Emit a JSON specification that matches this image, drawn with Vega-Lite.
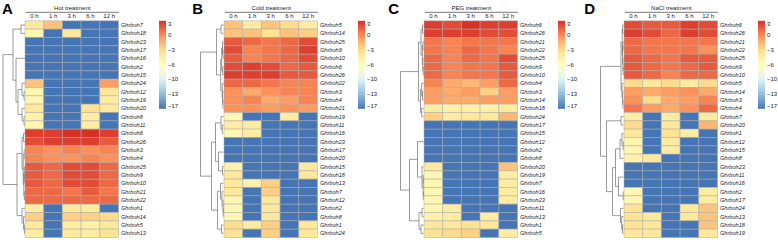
{
"$schema": "https://vega.github.io/schema/vega-lite/v6.json",
"padding": {"left": 2, "top": 0.8, "right": 0, "bottom": 0},
"background": "white",
"datasets": {
"heat": [
{"p":"A","r":1,"g":"Ghrboh7","0 h":-4.5,"1 h":-2.5,"3 h":-17,"6 h":-17,"12 h":-17},
{"p":"A","r":2,"g":"Ghrboh18","0 h":-6,"1 h":-17,"3 h":-4.5,"6 h":-17,"12 h":-17},
{"p":"A","r":3,"g":"Ghrboh23","0 h":-17,"1 h":-17,"3 h":-17,"6 h":-17,"12 h":-17},
{"p":"A","r":4,"g":"Ghrboh17","0 h":-17,"1 h":-17,"3 h":-17,"6 h":-17,"12 h":-17},
{"p":"A","r":5,"g":"Ghrboh16","0 h":-17,"1 h":-17,"3 h":-17,"6 h":-17,"12 h":-17},
{"p":"A","r":6,"g":"Ghrboh2","0 h":-17,"1 h":-17,"3 h":-17,"6 h":-17,"12 h":-17},
{"p":"A","r":7,"g":"Ghrboh15","0 h":-17,"1 h":-17,"3 h":-17,"6 h":-17,"12 h":-17},
{"p":"A","r":8,"g":"Ghrboh24","0 h":-2.5,"1 h":-17,"3 h":-17,"6 h":-17,"12 h":-1},
{"p":"A","r":9,"g":"Ghrboh12","0 h":-6,"1 h":-17,"3 h":-17,"6 h":-17,"12 h":-4.5},
{"p":"A","r":10,"g":"Ghrboh19","0 h":-6,"1 h":-17,"3 h":-17,"6 h":-17,"12 h":-5},
{"p":"A","r":11,"g":"Ghrboh20","0 h":-4.5,"1 h":-17,"3 h":-17,"6 h":-4,"12 h":-4.5},
{"p":"A","r":12,"g":"Ghrboh8","0 h":-5.5,"1 h":-17,"3 h":-17,"6 h":-5,"12 h":-17},
{"p":"A","r":13,"g":"Ghrboh11","0 h":-6,"1 h":-17,"3 h":-17,"6 h":-5,"12 h":-17},
{"p":"A","r":14,"g":"Ghrboh6","0 h":2.5,"1 h":2.5,"3 h":3,"6 h":3,"12 h":2.5},
{"p":"A","r":15,"g":"Ghrboh26","0 h":2,"1 h":2.5,"3 h":2.5,"6 h":2.5,"12 h":1.5},
{"p":"A","r":16,"g":"Ghrboh3","0 h":0,"1 h":-0.5,"3 h":0,"6 h":-0.5,"12 h":0},
{"p":"A","r":17,"g":"Ghrboh4","0 h":0,"1 h":-0.5,"3 h":-0.5,"6 h":0,"12 h":-0.5},
{"p":"A","r":18,"g":"Ghrboh25","0 h":1.5,"1 h":1,"3 h":2,"6 h":2,"12 h":1},
{"p":"A","r":19,"g":"Ghrboh9","0 h":1.5,"1 h":1,"3 h":2,"6 h":2,"12 h":1},
{"p":"A","r":20,"g":"Ghrboh10","0 h":1.5,"1 h":1,"3 h":2,"6 h":2,"12 h":1},
{"p":"A","r":21,"g":"Ghrboh21","0 h":1,"1 h":1,"3 h":0.5,"6 h":1.5,"12 h":0.5},
{"p":"A","r":22,"g":"Ghrboh22","0 h":1,"1 h":1,"3 h":1,"6 h":1,"12 h":1},
{"p":"A","r":23,"g":"Ghrboh1","0 h":-5,"1 h":-17,"3 h":-4.5,"6 h":-5,"12 h":-17},
{"p":"A","r":24,"g":"Ghrboh14","0 h":-3,"1 h":-17,"3 h":-3,"6 h":-3,"12 h":-3.5},
{"p":"A","r":25,"g":"Ghrboh5","0 h":-4.5,"1 h":-17,"3 h":-5,"6 h":-5.5,"12 h":-4.5},
{"p":"A","r":26,"g":"Ghrboh13","0 h":-5,"1 h":-17,"3 h":-4.5,"6 h":-5,"12 h":-4},
{"p":"B","r":1,"g":"Ghrboh5","0 h":-2.5,"1 h":-5,"3 h":-2.5,"6 h":-3.5,"12 h":-5},
{"p":"B","r":2,"g":"Ghrboh14","0 h":-2.5,"1 h":-2.5,"3 h":-4,"6 h":-2.5,"12 h":-3},
{"p":"B","r":3,"g":"Ghrboh25","0 h":1.5,"1 h":1,"3 h":0.5,"6 h":1,"12 h":2},
{"p":"B","r":4,"g":"Ghrboh9","0 h":2,"1 h":0,"3 h":0.5,"6 h":1,"12 h":2.5},
{"p":"B","r":5,"g":"Ghrboh10","0 h":1.5,"1 h":0,"3 h":0.5,"6 h":1,"12 h":2},
{"p":"B","r":6,"g":"Ghrboh6","0 h":2,"1 h":2.5,"3 h":2,"6 h":1,"12 h":1.5},
{"p":"B","r":7,"g":"Ghrboh26","0 h":2.5,"1 h":2.5,"3 h":2.5,"6 h":1.5,"12 h":1.5},
{"p":"B","r":8,"g":"Ghrboh22","0 h":1,"1 h":1,"3 h":0.5,"6 h":0,"12 h":0},
{"p":"B","r":9,"g":"Ghrboh3","0 h":-0.5,"1 h":-1.5,"3 h":-0.5,"6 h":0,"12 h":0},
{"p":"B","r":10,"g":"Ghrboh4","0 h":-0.5,"1 h":0,"3 h":-1.5,"6 h":-1,"12 h":0},
{"p":"B","r":11,"g":"Ghrboh21","0 h":-0.5,"1 h":-0.5,"3 h":-1,"6 h":-0.5,"12 h":-1},
{"p":"B","r":12,"g":"Ghrboh19","0 h":-6,"1 h":-17,"3 h":-17,"6 h":-5,"12 h":-17},
{"p":"B","r":13,"g":"Ghrboh11","0 h":-5,"1 h":-5,"3 h":-17,"6 h":-17,"12 h":-17},
{"p":"B","r":14,"g":"Ghrboh16","0 h":-6,"1 h":-5,"3 h":-17,"6 h":-17,"12 h":-17},
{"p":"B","r":15,"g":"Ghrboh23","0 h":-17,"1 h":-17,"3 h":-17,"6 h":-17,"12 h":-17},
{"p":"B","r":16,"g":"Ghrboh17","0 h":-17,"1 h":-17,"3 h":-17,"6 h":-17,"12 h":-17},
{"p":"B","r":17,"g":"Ghrboh20","0 h":-17,"1 h":-17,"3 h":-17,"6 h":-17,"12 h":-17},
{"p":"B","r":18,"g":"Ghrboh15","0 h":-5.5,"1 h":-17,"3 h":-17,"6 h":-17,"12 h":-4.5},
{"p":"B","r":19,"g":"Ghrboh18","0 h":-4.5,"1 h":-17,"3 h":-17,"6 h":-17,"12 h":-4.5},
{"p":"B","r":20,"g":"Ghrboh13","0 h":-4.5,"1 h":-5.5,"3 h":-3,"6 h":-17,"12 h":-17},
{"p":"B","r":21,"g":"Ghrboh7","0 h":-4.5,"1 h":-17,"3 h":-3,"6 h":-17,"12 h":-17},
{"p":"B","r":22,"g":"Ghrboh12","0 h":-6,"1 h":-17,"3 h":-4.5,"6 h":-17,"12 h":-17},
{"p":"B","r":23,"g":"Ghrboh2","0 h":-6,"1 h":-17,"3 h":-4.5,"6 h":-17,"12 h":-17},
{"p":"B","r":24,"g":"Ghrboh8","0 h":-6,"1 h":-17,"3 h":-4.5,"6 h":-17,"12 h":-17},
{"p":"B","r":25,"g":"Ghrboh1","0 h":-3.5,"1 h":-5,"3 h":-3,"6 h":-17,"12 h":-4.5},
{"p":"B","r":26,"g":"Ghrboh24","0 h":-4,"1 h":-17,"3 h":-3,"6 h":-17,"12 h":-4.5},
{"p":"C","r":1,"g":"Ghrboh6","0 h":2.5,"1 h":2,"3 h":3,"6 h":2.5,"12 h":2.5},
{"p":"C","r":2,"g":"Ghrboh26","0 h":2.5,"1 h":2.5,"3 h":2.5,"6 h":2,"12 h":2},
{"p":"C","r":3,"g":"Ghrboh21","0 h":0.5,"1 h":0,"3 h":0.5,"6 h":0.5,"12 h":0.5},
{"p":"C","r":4,"g":"Ghrboh22","0 h":0.5,"1 h":0,"3 h":1,"6 h":0.5,"12 h":0},
{"p":"C","r":5,"g":"Ghrboh25","0 h":1,"1 h":0,"3 h":1,"6 h":0.5,"12 h":2},
{"p":"C","r":6,"g":"Ghrboh9","0 h":1,"1 h":0,"3 h":0.5,"6 h":0.5,"12 h":1.5},
{"p":"C","r":7,"g":"Ghrboh10","0 h":1,"1 h":0,"3 h":0.5,"6 h":0.5,"12 h":1.5},
{"p":"C","r":8,"g":"Ghrboh4","0 h":0,"1 h":-1.5,"3 h":-2,"6 h":-1,"12 h":1},
{"p":"C","r":9,"g":"Ghrboh3","0 h":-1,"1 h":-1.5,"3 h":-1,"6 h":-3,"12 h":-1},
{"p":"C","r":10,"g":"Ghrboh14","0 h":-1,"1 h":-1.5,"3 h":-1.5,"6 h":-1,"12 h":-1},
{"p":"C","r":11,"g":"Ghrboh18","0 h":-5,"1 h":-5.5,"3 h":-5.5,"6 h":-5.5,"12 h":-5},
{"p":"C","r":12,"g":"Ghrboh24","0 h":-3,"1 h":-5,"3 h":-4.5,"6 h":-4.5,"12 h":-2},
{"p":"C","r":13,"g":"Ghrboh17","0 h":-17,"1 h":-17,"3 h":-17,"6 h":-17,"12 h":-17},
{"p":"C","r":14,"g":"Ghrboh15","0 h":-17,"1 h":-17,"3 h":-17,"6 h":-17,"12 h":-17},
{"p":"C","r":15,"g":"Ghrboh12","0 h":-17,"1 h":-17,"3 h":-17,"6 h":-17,"12 h":-17},
{"p":"C","r":16,"g":"Ghrboh2","0 h":-17,"1 h":-17,"3 h":-17,"6 h":-17,"12 h":-17},
{"p":"C","r":17,"g":"Ghrboh8","0 h":-17,"1 h":-17,"3 h":-17,"6 h":-17,"12 h":-17},
{"p":"C","r":18,"g":"Ghrboh20","0 h":-4.5,"1 h":-17,"3 h":-17,"6 h":-17,"12 h":-2.5},
{"p":"C","r":19,"g":"Ghrboh19","0 h":-6,"1 h":-17,"3 h":-17,"6 h":-17,"12 h":-5},
{"p":"C","r":20,"g":"Ghrboh7","0 h":-6,"1 h":-17,"3 h":-17,"6 h":-17,"12 h":-5},
{"p":"C","r":21,"g":"Ghrboh16","0 h":-6,"1 h":-17,"3 h":-17,"6 h":-17,"12 h":-5},
{"p":"C","r":22,"g":"Ghrboh23","0 h":-6,"1 h":-17,"3 h":-17,"6 h":-17,"12 h":-5},
{"p":"C","r":23,"g":"Ghrboh11","0 h":-6,"1 h":-5,"3 h":-17,"6 h":-17,"12 h":-17},
{"p":"C","r":24,"g":"Ghrboh13","0 h":-5.5,"1 h":-5,"3 h":-17,"6 h":-5,"12 h":-17},
{"p":"C","r":25,"g":"Ghrboh1","0 h":-4.5,"1 h":-4.5,"3 h":-4,"6 h":-4.5,"12 h":-17},
{"p":"C","r":26,"g":"Ghrboh5","0 h":-4,"1 h":-3.5,"3 h":-3,"6 h":-17,"12 h":-5},
{"p":"D","r":1,"g":"Ghrboh6","0 h":2,"1 h":1.5,"3 h":1.5,"6 h":2.5,"12 h":2},
{"p":"D","r":2,"g":"Ghrboh26","0 h":2.5,"1 h":2,"3 h":1,"6 h":2.5,"12 h":2},
{"p":"D","r":3,"g":"Ghrboh21","0 h":1,"1 h":0.5,"3 h":0.5,"6 h":0.5,"12 h":0.5},
{"p":"D","r":4,"g":"Ghrboh22","0 h":1,"1 h":0.5,"3 h":0.5,"6 h":0.5,"12 h":-0.5},
{"p":"D","r":5,"g":"Ghrboh25","0 h":1.5,"1 h":1,"3 h":0.5,"6 h":1.5,"12 h":1.5},
{"p":"D","r":6,"g":"Ghrboh9","0 h":1.5,"1 h":1,"3 h":0.5,"6 h":1,"12 h":1.5},
{"p":"D","r":7,"g":"Ghrboh10","0 h":1.5,"1 h":1,"3 h":0,"6 h":1,"12 h":1},
{"p":"D","r":8,"g":"Ghrboh5","0 h":-3.5,"1 h":-4.5,"3 h":-3.5,"6 h":-5,"12 h":-3.5},
{"p":"D","r":9,"g":"Ghrboh14","0 h":-1,"1 h":-1.5,"3 h":-1,"6 h":-0.5,"12 h":-1.5},
{"p":"D","r":10,"g":"Ghrboh3","0 h":-0.5,"1 h":-3.5,"3 h":-1.5,"6 h":-1,"12 h":0},
{"p":"D","r":11,"g":"Ghrboh4","0 h":0.5,"1 h":-1,"3 h":-1.5,"6 h":-0.5,"12 h":1},
{"p":"D","r":12,"g":"Ghrboh7","0 h":-5,"1 h":-17,"3 h":-5,"6 h":-17,"12 h":-4.5},
{"p":"D","r":13,"g":"Ghrboh20","0 h":-3.5,"1 h":-17,"3 h":-4.5,"6 h":-17,"12 h":-2},
{"p":"D","r":14,"g":"Ghrboh1","0 h":-4.5,"1 h":-17,"3 h":-4,"6 h":-5,"12 h":-17},
{"p":"D","r":15,"g":"Ghrboh12","0 h":-6,"1 h":-17,"3 h":-5,"6 h":-17,"12 h":-17},
{"p":"D","r":16,"g":"Ghrboh15","0 h":-6,"1 h":-17,"3 h":-5,"6 h":-17,"12 h":-17},
{"p":"D","r":17,"g":"Ghrboh8","0 h":-5.5,"1 h":-4.5,"3 h":-17,"6 h":-17,"12 h":-17},
{"p":"D","r":18,"g":"Ghrboh23","0 h":-17,"1 h":-17,"3 h":-17,"6 h":-17,"12 h":-17},
{"p":"D","r":19,"g":"Ghrboh11","0 h":-17,"1 h":-17,"3 h":-17,"6 h":-17,"12 h":-17},
{"p":"D","r":20,"g":"Ghrboh16","0 h":-17,"1 h":-17,"3 h":-17,"6 h":-17,"12 h":-17},
{"p":"D","r":21,"g":"Ghrboh2","0 h":-6,"1 h":-17,"3 h":-17,"6 h":-17,"12 h":-5},
{"p":"D","r":22,"g":"Ghrboh17","0 h":-6,"1 h":-17,"3 h":-17,"6 h":-17,"12 h":-5},
{"p":"D","r":23,"g":"Ghrboh24","0 h":-4,"1 h":-17,"3 h":-17,"6 h":-4.5,"12 h":-2.5},
{"p":"D","r":24,"g":"Ghrboh13","0 h":-4,"1 h":-4.5,"3 h":-17,"6 h":-4.5,"12 h":-2.5},
{"p":"D","r":25,"g":"Ghrboh18","0 h":-4,"1 h":-4.5,"3 h":-17,"6 h":-17,"12 h":-2.5},
{"p":"D","r":26,"g":"Ghrboh19","0 h":-4.5,"1 h":-4.5,"3 h":-17,"6 h":-17,"12 h":-4.5}
],
"tree": [
{"p":"A","h":4,"ya":1,"ha":0,"yb":2,"hb":0},
{"p":"A","h":1,"ya":9,"ha":0,"yb":10,"hb":0},
{"p":"A","h":3,"ya":8,"ha":0,"yb":9.5,"hb":1},
{"p":"A","h":1,"ya":12,"ha":0,"yb":13,"hb":0},
{"p":"A","h":3,"ya":11,"ha":0,"yb":12.5,"hb":1},
{"p":"A","h":7,"ya":8.75,"ha":3,"yb":11.75,"hb":3},
{"p":"A","h":9,"ya":5,"ha":0,"yb":10.25,"hb":7},
{"p":"A","h":12,"ya":1.5,"ha":4,"yb":7.625,"hb":9},
{"p":"A","h":1.5,"ya":14,"ha":0,"yb":15,"hb":0},
{"p":"A","h":0.8,"ya":16,"ha":0,"yb":17,"hb":0},
{"p":"A","h":0.3,"ya":19,"ha":0,"yb":20,"hb":0},
{"p":"A","h":0.6,"ya":18,"ha":0,"yb":19.5,"hb":0.3},
{"p":"A","h":0.6,"ya":21,"ha":0,"yb":22,"hb":0},
{"p":"A","h":1.2,"ya":18.75,"ha":0.6,"yb":21.5,"hb":0.6},
{"p":"A","h":1.8,"ya":16.5,"ha":0.8,"yb":20.125,"hb":1.2},
{"p":"A","h":3,"ya":14.5,"ha":1.5,"yb":18.3125,"hb":1.8},
{"p":"A","h":0.6,"ya":25,"ha":0,"yb":26,"hb":0},
{"p":"A","h":1.5,"ya":24,"ha":0,"yb":25.5,"hb":0.6},
{"p":"A","h":3,"ya":23,"ha":0,"yb":24.75,"hb":1.5},
{"p":"A","h":8,"ya":16.40625,"ha":3,"yb":23.875,"hb":3},
{"p":"A","h":22,"ya":4.5625,"ha":12,"yb":20.140625,"hb":8},
{"p":"B","h":2.5,"ya":1,"ha":0,"yb":2,"hb":0},
{"p":"B","h":0.5,"ya":4,"ha":0,"yb":5,"hb":0},
{"p":"B","h":1,"ya":3,"ha":0,"yb":4.5,"hb":0.5},
{"p":"B","h":0.8,"ya":6,"ha":0,"yb":7,"hb":0},
{"p":"B","h":1.8,"ya":3.75,"ha":1,"yb":6.5,"hb":0.8},
{"p":"B","h":0.6,"ya":10,"ha":0,"yb":11,"hb":0},
{"p":"B","h":0.9,"ya":9,"ha":0,"yb":10.5,"hb":0.6},
{"p":"B","h":1.3,"ya":8,"ha":0,"yb":9.75,"hb":0.9},
{"p":"B","h":2.8,"ya":5.125,"ha":1.8,"yb":8.875,"hb":1.3},
{"p":"B","h":7,"ya":1.5,"ha":2.5,"yb":7,"hb":2.8},
{"p":"B","h":1.2,"ya":13,"ha":0,"yb":14,"hb":0},
{"p":"B","h":2.5,"ya":12,"ha":0,"yb":13.5,"hb":1.2},
{"p":"B","h":1,"ya":18,"ha":0,"yb":19,"hb":0},
{"p":"B","h":5,"ya":16.25,"ha":0,"yb":18.5,"hb":1},
{"p":"B","h":8,"ya":12.75,"ha":2.5,"yb":17.375,"hb":5},
{"p":"B","h":0.2,"ya":23,"ha":0,"yb":24,"hb":0},
{"p":"B","h":0.4,"ya":22,"ha":0,"yb":23.5,"hb":0.2},
{"p":"B","h":1.5,"ya":21,"ha":0,"yb":22.75,"hb":0.4},
{"p":"B","h":3,"ya":20,"ha":0,"yb":21.875,"hb":1.5},
{"p":"B","h":2,"ya":25,"ha":0,"yb":26,"hb":0},
{"p":"B","h":6,"ya":20.9375,"ha":3,"yb":25.5,"hb":2},
{"p":"B","h":12,"ya":15.0625,"ha":8,"yb":23.21875,"hb":6},
{"p":"B","h":23,"ya":4.25,"ha":7,"yb":19.140625,"hb":12},
{"p":"C","h":1,"ya":1,"ha":0,"yb":2,"hb":0},
{"p":"C","h":0.6,"ya":3,"ha":0,"yb":4,"hb":0},
{"p":"C","h":0.3,"ya":6,"ha":0,"yb":7,"hb":0},
{"p":"C","h":0.7,"ya":5,"ha":0,"yb":6.5,"hb":0.3},
{"p":"C","h":1.2,"ya":3.5,"ha":0.6,"yb":5.75,"hb":0.7},
{"p":"C","h":2.5,"ya":1.5,"ha":1,"yb":4.625,"hb":1.2},
{"p":"C","h":1,"ya":9,"ha":0,"yb":10,"hb":0},
{"p":"C","h":1.8,"ya":8,"ha":0,"yb":9.5,"hb":1},
{"p":"C","h":1.8,"ya":11,"ha":0,"yb":12,"hb":0},
{"p":"C","h":3,"ya":8.75,"ha":1.8,"yb":11.5,"hb":1.8},
{"p":"C","h":5,"ya":3.0625,"ha":2.5,"yb":10.125,"hb":3},
{"p":"C","h":0.2,"ya":19,"ha":0,"yb":20,"hb":0},
{"p":"C","h":0.2,"ya":21,"ha":0,"yb":22,"hb":0},
{"p":"C","h":0.3,"ya":19.5,"ha":0.2,"yb":21.5,"hb":0.2},
{"p":"C","h":1.5,"ya":18,"ha":0,"yb":20.5,"hb":0.3},
{"p":"C","h":6,"ya":15,"ha":0,"yb":19.25,"hb":1.5},
{"p":"C","h":1.5,"ya":23,"ha":0,"yb":24,"hb":0},
{"p":"C","h":2.5,"ya":25,"ha":0,"yb":26,"hb":0},
{"p":"C","h":4.5,"ya":23.5,"ha":1.5,"yb":25.5,"hb":2.5},
{"p":"C","h":14,"ya":17.125,"ha":6,"yb":24.5,"hb":4.5},
{"p":"C","h":23,"ya":6.59375,"ha":5,"yb":20.8125,"hb":14},
{"p":"D","h":0.8,"ya":1,"ha":0,"yb":2,"hb":0},
{"p":"D","h":0.5,"ya":3,"ha":0,"yb":4,"hb":0},
{"p":"D","h":0.3,"ya":6,"ha":0,"yb":7,"hb":0},
{"p":"D","h":0.5,"ya":5,"ha":0,"yb":6.5,"hb":0.3},
{"p":"D","h":0.9,"ya":3.5,"ha":0.5,"yb":5.75,"hb":0.5},
{"p":"D","h":1.3,"ya":1.5,"ha":0.8,"yb":4.625,"hb":0.9},
{"p":"D","h":0.6,"ya":10,"ha":0,"yb":11,"hb":0},
{"p":"D","h":0.9,"ya":9,"ha":0,"yb":10.5,"hb":0.6},
{"p":"D","h":1.5,"ya":8,"ha":0,"yb":9.75,"hb":0.9},
{"p":"D","h":2.5,"ya":3.0625,"ha":1.3,"yb":8.875,"hb":1.5},
{"p":"D","h":2.5,"ya":12,"ha":0,"yb":13,"hb":0},
{"p":"D","h":0.3,"ya":15,"ha":0,"yb":16,"hb":0},
{"p":"D","h":1.5,"ya":14,"ha":0,"yb":15.5,"hb":0.3},
{"p":"D","h":3.5,"ya":14.75,"ha":1.5,"yb":17,"hb":0},
{"p":"D","h":0.3,"ya":21,"ha":0,"yb":22,"hb":0},
{"p":"D","h":5,"ya":19.25,"ha":0,"yb":21.5,"hb":0.3},
{"p":"D","h":8,"ya":15.875,"ha":3.5,"yb":20.375,"hb":5},
{"p":"D","h":1,"ya":25,"ha":0,"yb":26,"hb":0},
{"p":"D","h":1.8,"ya":24,"ha":0,"yb":25.5,"hb":1},
{"p":"D","h":3,"ya":23,"ha":0,"yb":24.75,"hb":1.8},
{"p":"D","h":11,"ya":18.125,"ha":8,"yb":23.875,"hb":3},
{"p":"D","h":17,"ya":12.5,"ha":2.5,"yb":21,"hb":11},
{"p":"D","h":23,"ya":5.96875,"ha":2.5,"yb":16.75,"hb":17}
]
},
"bounds": "flush",
"spacing": 0,
"resolve": {"scale": {"color": "independent"}, "legend": {"color": "independent"}},
"hconcat": [
 {"width": 23, "height": 216.7, "title": {"text": "A", "dx": 0},
  "data": {"name": "tree"}, "transform": [{"filter": "datum.p == 'A'"}],
  "encoding": {"x": {"field": "h", "type": "quantitative", "scale": {"domain": [0, 23], "reverse": true, "nice": false, "zero": false}, "axis": null},
               "y": {"field": "ya", "type": "quantitative", "scale": {"domain": [0.5, 26.5], "reverse": true, "nice": false, "zero": false}, "axis": null}},
  "layer": [
   {"mark": {"type": "rule", "color": "#707070", "strokeWidth": 0.7}, "encoding": {"y2": {"field": "yb"}}},
   {"mark": {"type": "rule", "color": "#707070", "strokeWidth": 0.7}, "encoding": {"x2": {"field": "ha"}}},
   {"mark": {"type": "rule", "color": "#707070", "strokeWidth": 0.7}, "encoding": {"x2": {"field": "hb"}, "y": {"field": "yb", "type": "quantitative"}}}
  ]},
 {"width": 93.5, "height": 216.7, "data": {"name": "heat"},
  "transform": [{"filter": "datum.p == 'A'"}, {"fold": ["0 h", "1 h", "3 h", "6 h", "12 h"], "as": ["t", "v"]}],
  "mark": {"type": "rect", "stroke": "#a8a8a8", "strokeWidth": 0.5},
  "encoding": {
   "x": {"field": "t", "type": "ordinal", "sort": ["0 h", "1 h", "3 h", "6 h", "12 h"], "axis": {"orient": "top", "title": "Hot treatment"}},
   "y": {"field": "g", "type": "nominal", "sort": {"field": "r", "op": "min"}, "axis": {"orient": "right", "title": null}},
   "color": {"field": "v", "type": "quantitative",
     "scale": {"domain": [-17, -13.6667, -10.3333, -7, -3.6667, -0.3333, 3], "range": ["#4575B4", "#91BFDB", "#E0F3F8", "#FFFFBF", "#FEE090", "#FC8D59", "#D73027"], "interpolate": "rgb"},
     "legend": {"title": null, "values": [3, -0.3333, -3.6667, -7, -10.3333, -13.6667, -17], "labelExpr": "datum.value > 1 ? '3' : datum.value > -2 ? '0' : datum.value > -5 ? '−3' : datum.value > -8 ? '−6' : datum.value > -12 ? '−10' : datum.value > -15 ? '−13' : '−17'"}}
  }},
 {"width": 104.5, "height": 216.7, "title": {"text": "B", "dx": 73.2},
  "data": {"name": "tree"}, "transform": [{"filter": "datum.p == 'B'"}],
  "encoding": {"x": {"field": "h", "type": "quantitative", "scale": {"domain": [0, 104.5], "reverse": true, "nice": false, "zero": false}, "axis": null},
               "y": {"field": "ya", "type": "quantitative", "scale": {"domain": [0.5, 26.5], "reverse": true, "nice": false, "zero": false}, "axis": null}},
  "layer": [
   {"mark": {"type": "rule", "color": "#707070", "strokeWidth": 0.7}, "encoding": {"y2": {"field": "yb"}}},
   {"mark": {"type": "rule", "color": "#707070", "strokeWidth": 0.7}, "encoding": {"x2": {"field": "ha"}}},
   {"mark": {"type": "rule", "color": "#707070", "strokeWidth": 0.7}, "encoding": {"x2": {"field": "hb"}, "y": {"field": "yb", "type": "quantitative"}}}
  ]},
 {"width": 93.5, "height": 216.7, "data": {"name": "heat"},
  "transform": [{"filter": "datum.p == 'B'"}, {"fold": ["0 h", "1 h", "3 h", "6 h", "12 h"], "as": ["t", "v"]}],
  "mark": {"type": "rect", "stroke": "#a8a8a8", "strokeWidth": 0.5},
  "encoding": {
   "x": {"field": "t", "type": "ordinal", "sort": ["0 h", "1 h", "3 h", "6 h", "12 h"], "axis": {"orient": "top", "title": "Cold treatment"}},
   "y": {"field": "g", "type": "nominal", "sort": {"field": "r", "op": "min"}, "axis": {"orient": "right", "title": null}},
   "color": {"field": "v", "type": "quantitative",
     "scale": {"domain": [-17, -13.6667, -10.3333, -7, -3.6667, -0.3333, 3], "range": ["#4575B4", "#91BFDB", "#E0F3F8", "#FFFFBF", "#FEE090", "#FC8D59", "#D73027"], "interpolate": "rgb"},
     "legend": {"title": null, "values": [3, -0.3333, -3.6667, -7, -10.3333, -13.6667, -17], "labelExpr": "datum.value > 1 ? '3' : datum.value > -2 ? '0' : datum.value > -5 ? '−3' : datum.value > -8 ? '−6' : datum.value > -12 ? '−10' : datum.value > -15 ? '−13' : '−17'"}}
  }},
 {"width": 105.5, "height": 216.7, "title": {"text": "C", "dx": 70.2},
  "data": {"name": "tree"}, "transform": [{"filter": "datum.p == 'C'"}],
  "encoding": {"x": {"field": "h", "type": "quantitative", "scale": {"domain": [0, 105.5], "reverse": true, "nice": false, "zero": false}, "axis": null},
               "y": {"field": "ya", "type": "quantitative", "scale": {"domain": [0.5, 26.5], "reverse": true, "nice": false, "zero": false}, "axis": null}},
  "layer": [
   {"mark": {"type": "rule", "color": "#707070", "strokeWidth": 0.7}, "encoding": {"y2": {"field": "yb"}}},
   {"mark": {"type": "rule", "color": "#707070", "strokeWidth": 0.7}, "encoding": {"x2": {"field": "ha"}}},
   {"mark": {"type": "rule", "color": "#707070", "strokeWidth": 0.7}, "encoding": {"x2": {"field": "hb"}, "y": {"field": "yb", "type": "quantitative"}}}
  ]},
 {"width": 93.5, "height": 216.7, "data": {"name": "heat"},
  "transform": [{"filter": "datum.p == 'C'"}, {"fold": ["0 h", "1 h", "3 h", "6 h", "12 h"], "as": ["t", "v"]}],
  "mark": {"type": "rect", "stroke": "#a8a8a8", "strokeWidth": 0.5},
  "encoding": {
   "x": {"field": "t", "type": "ordinal", "sort": ["0 h", "1 h", "3 h", "6 h", "12 h"], "axis": {"orient": "top", "title": "PEG treatment"}},
   "y": {"field": "g", "type": "nominal", "sort": {"field": "r", "op": "min"}, "axis": {"orient": "right", "title": null}},
   "color": {"field": "v", "type": "quantitative",
     "scale": {"domain": [-17, -13.6667, -10.3333, -7, -3.6667, -0.3333, 3], "range": ["#4575B4", "#91BFDB", "#E0F3F8", "#FFFFBF", "#FEE090", "#FC8D59", "#D73027"], "interpolate": "rgb"},
     "legend": {"title": null, "values": [3, -0.3333, -3.6667, -7, -10.3333, -13.6667, -17], "labelExpr": "datum.value > 1 ? '3' : datum.value > -2 ? '0' : datum.value > -5 ? '−3' : datum.value > -8 ? '−6' : datum.value > -12 ? '−10' : datum.value > -15 ? '−13' : '−17'"}}
  }},
 {"width": 105.5, "height": 216.7, "title": {"text": "D", "dx": 66.2},
  "data": {"name": "tree"}, "transform": [{"filter": "datum.p == 'D'"}],
  "encoding": {"x": {"field": "h", "type": "quantitative", "scale": {"domain": [0, 105.5], "reverse": true, "nice": false, "zero": false}, "axis": null},
               "y": {"field": "ya", "type": "quantitative", "scale": {"domain": [0.5, 26.5], "reverse": true, "nice": false, "zero": false}, "axis": null}},
  "layer": [
   {"mark": {"type": "rule", "color": "#707070", "strokeWidth": 0.7}, "encoding": {"y2": {"field": "yb"}}},
   {"mark": {"type": "rule", "color": "#707070", "strokeWidth": 0.7}, "encoding": {"x2": {"field": "ha"}}},
   {"mark": {"type": "rule", "color": "#707070", "strokeWidth": 0.7}, "encoding": {"x2": {"field": "hb"}, "y": {"field": "yb", "type": "quantitative"}}}
  ]},
 {"width": 93.5, "height": 216.7, "data": {"name": "heat"},
  "transform": [{"filter": "datum.p == 'D'"}, {"fold": ["0 h", "1 h", "3 h", "6 h", "12 h"], "as": ["t", "v"]}],
  "mark": {"type": "rect", "stroke": "#a8a8a8", "strokeWidth": 0.5},
  "encoding": {
   "x": {"field": "t", "type": "ordinal", "sort": ["0 h", "1 h", "3 h", "6 h", "12 h"], "axis": {"orient": "top", "title": "NaCl treatment"}},
   "y": {"field": "g", "type": "nominal", "sort": {"field": "r", "op": "min"}, "axis": {"orient": "right", "title": null}},
   "color": {"field": "v", "type": "quantitative",
     "scale": {"domain": [-17, -13.6667, -10.3333, -7, -3.6667, -0.3333, 3], "range": ["#4575B4", "#91BFDB", "#E0F3F8", "#FFFFBF", "#FEE090", "#FC8D59", "#D73027"], "interpolate": "rgb"},
     "legend": {"title": null, "values": [3, -0.3333, -3.6667, -7, -10.3333, -13.6667, -17], "labelExpr": "datum.value > 1 ? '3' : datum.value > -2 ? '0' : datum.value > -5 ? '−3' : datum.value > -8 ? '−6' : datum.value > -12 ? '−10' : datum.value > -15 ? '−13' : '−17'"}}
  }}
],
"config": {
 "font": "Liberation Sans",
 "view": {"stroke": null},
 "title": {"anchor": "start", "fontSize": 15, "fontWeight": "bold", "baseline": "alphabetic", "offset": 4.1, "color": "#000000"},
 "axisX": {"offset": 9, "domain": true, "domainColor": "#555555", "domainWidth": 0.8, "ticks": false, "tickSize": 0, "labelPadding": -7, "labelAngle": 0, "labelFontSize": 6, "labelColor": "#222222", "titleFontSize": 6, "titleFontWeight": "normal", "titlePadding": 1, "titleColor": "#222222"},
 "axisY": {"domain": false, "ticks": false, "tickSize": 0, "labelPadding": 2, "labelFontSize": 5.6, "labelFontStyle": "italic", "labelColor": "#222222"},
 "legend": {"gradientLength": 88, "gradientThickness": 7, "labelFontSize": 6, "labelColor": "#222222", "offset": 12.5, "padding": 0, "labelOffset": 1.5, "gradientStrokeWidth": 0, "labelOverlap": false}
}
}
